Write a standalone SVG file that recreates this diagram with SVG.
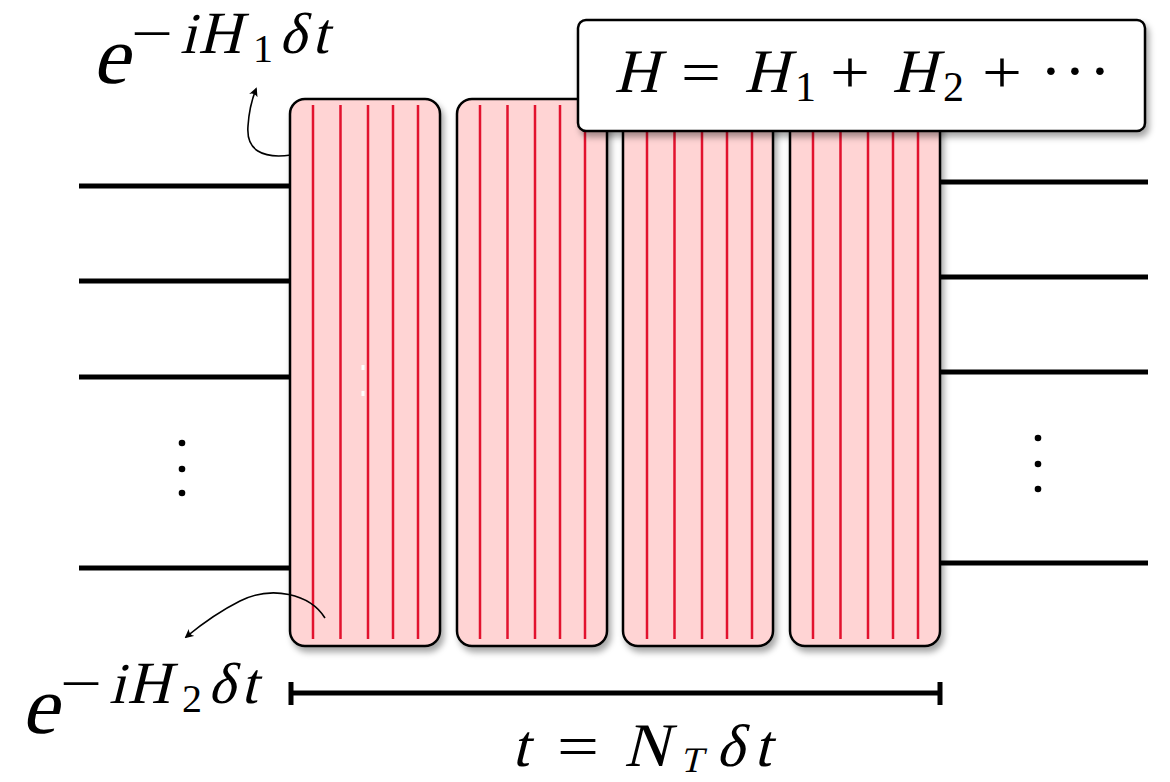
<svg xmlns="http://www.w3.org/2000/svg" width="1170" height="782" viewBox="0 0 1170 782">
<style>
.wire{stroke:#000;stroke-width:5;fill:none}
.blk{fill:#ffd4d4;stroke:#000;stroke-width:2.5}
.red{stroke:#e2122e;stroke-width:2.5}
text{font-family:"Times New Roman",Times,"Liberation Serif",Tinos,"Noto Serif",serif;fill:#000}
.arr{stroke:#000;stroke-width:1.6;fill:none}
</style>
<defs>
<filter id="sh" x="-10%" y="-10%" width="130%" height="130%">
<feDropShadow dx="3" dy="5" stdDeviation="3" flood-color="#000" flood-opacity="0.35"/>
</filter>
<marker id="ah" viewBox="0 0 10 10" refX="8" refY="5" markerWidth="9" markerHeight="9" markerUnits="userSpaceOnUse" orient="auto">
<path d="M0,0 Q4,5 0,10 L10,5 Z" fill="#000"/>
</marker>
<g id="redlines">
<line class="red" x1="23" y1="6" x2="23" y2="540"/>
<line class="red" x1="50.5" y1="6" x2="50.5" y2="540"/>
<line class="red" x1="78" y1="6" x2="78" y2="540"/>
<line class="red" x1="103" y1="6" x2="103" y2="540"/>
<line class="red" x1="128" y1="6" x2="128" y2="540"/>
</g>
</defs>
<rect width="1170" height="782" fill="#fff"/>

<g id="wires">
<line class="wire" x1="79" y1="186" x2="290" y2="186"/>
<line class="wire" x1="79" y1="281" x2="290" y2="281"/>
<line class="wire" x1="79" y1="377" x2="290" y2="377"/>
<line class="wire" x1="79" y1="568" x2="290" y2="568"/>
<line class="wire" x1="940" y1="182" x2="1148" y2="182"/>
<line class="wire" x1="940" y1="277" x2="1148" y2="277"/>
<line class="wire" x1="940" y1="372" x2="1148" y2="372"/>
<line class="wire" x1="940" y1="563" x2="1148" y2="563"/>
</g>

<g id="vdots">
<circle cx="182" cy="443" r="3.3"/>
<circle cx="182" cy="469" r="3.3"/>
<circle cx="182" cy="493" r="3.3"/>
<circle cx="1038" cy="438" r="3.3"/>
<circle cx="1038" cy="464" r="3.3"/>
<circle cx="1038" cy="489" r="3.3"/>
</g>

<g id="block1">
<rect class="blk" x="290" y="99" width="150" height="547" rx="15" filter="url(#sh)"/>
<use href="#redlines" x="290" y="99"/>
<rect x="361.5" y="365" width="3" height="5" fill="#fff"/>
<rect x="361.5" y="391" width="3" height="5" fill="#fff"/>
</g>
<g id="block2">
<rect class="blk" x="457" y="99" width="150" height="547" rx="15" filter="url(#sh)"/>
<use href="#redlines" x="457" y="99"/>
</g>
<g id="block3">
<rect class="blk" x="623" y="99" width="150" height="547" rx="15" filter="url(#sh)"/>
<use href="#redlines" x="624" y="99"/>
</g>
<g id="block4">
<rect class="blk" x="790" y="99" width="150" height="547" rx="15" filter="url(#sh)"/>
<use href="#redlines" x="790" y="99"/>
</g>

<g id="hamiltonian">
<rect x="578" y="20" width="567" height="111" rx="8" fill="#fff" stroke="#000" stroke-width="2.5" filter="url(#sh)"/>
<text font-size="62" transform="translate(614,92) skewX(-14)">H</text>
<text font-size="60" x="681" y="92" textLength="40" lengthAdjust="spacingAndGlyphs">=</text>
<text font-size="62" transform="translate(744,92) skewX(-14)">H</text>
<text font-size="42" x="795" y="101">1</text>
<text font-size="60" x="830" y="92" textLength="40" lengthAdjust="spacingAndGlyphs">+</text>
<text font-size="62" transform="translate(892,92) skewX(-14)">H</text>
<text font-size="42" x="943" y="101">2</text>
<text font-size="60" x="982" y="92" textLength="40" lengthAdjust="spacingAndGlyphs">+</text>
<text font-size="64" y="92" text-anchor="middle"><tspan x="1051">·</tspan><tspan x="1075">·</tspan><tspan x="1100">·</tspan></text>
</g>

<g id="label-h1">
<text font-size="82" transform="translate(92,83) skewX(-14)">e</text>
<text font-size="58" x="131" y="53" textLength="42" lengthAdjust="spacingAndGlyphs">−</text>
<text font-size="58" transform="translate(180,53) skewX(-14)">i</text>
<text font-size="60" transform="translate(198,53) skewX(-14)">H</text>
<text font-size="40" x="253" y="62">1</text>
<text font-size="58" transform="translate(279,53) skewX(-14)">δ</text>
<text font-size="58" transform="translate(312,53) skewX(-14)">t</text>
</g>
<g id="label-h2">
<text font-size="82" transform="translate(21,733) skewX(-14)">e</text>
<text font-size="58" x="60" y="703" textLength="42" lengthAdjust="spacingAndGlyphs">−</text>
<text font-size="58" transform="translate(109,703) skewX(-14)">i</text>
<text font-size="60" transform="translate(127,703) skewX(-14)">H</text>
<text font-size="40" x="182" y="712">2</text>
<text font-size="58" transform="translate(208,703) skewX(-14)">δ</text>
<text font-size="58" transform="translate(241,703) skewX(-14)">t</text>
</g>

<g id="connectors">
<path class="arr" d="M291 155 C262 159 246 150 248 126 C249 110 252 99 256 89" marker-end="url(#ah)"/>
<path class="arr" d="M325 618 C310 594 272 585 240 601 C220 611 203 623 186 637" marker-end="url(#ah)"/>
</g>

<g id="timeline">
<line class="wire" x1="291" y1="693" x2="940" y2="693"/>
<line class="wire" x1="291" y1="682" x2="291" y2="705"/>
<line class="wire" x1="940" y1="682" x2="940" y2="705"/>
<text font-size="60" transform="translate(512,766) skewX(-14)">t</text>
<text font-size="60" x="557" y="766" textLength="42" lengthAdjust="spacingAndGlyphs">=</text>
<text font-size="62" transform="translate(624,766) skewX(-14)">N</text>
<text font-size="36" transform="translate(680,772) skewX(-14)">T</text>
<text font-size="60" transform="translate(716,766) skewX(-14)">δ</text>
<text font-size="60" transform="translate(754,766) skewX(-14)">t</text>
</g>
</svg>
